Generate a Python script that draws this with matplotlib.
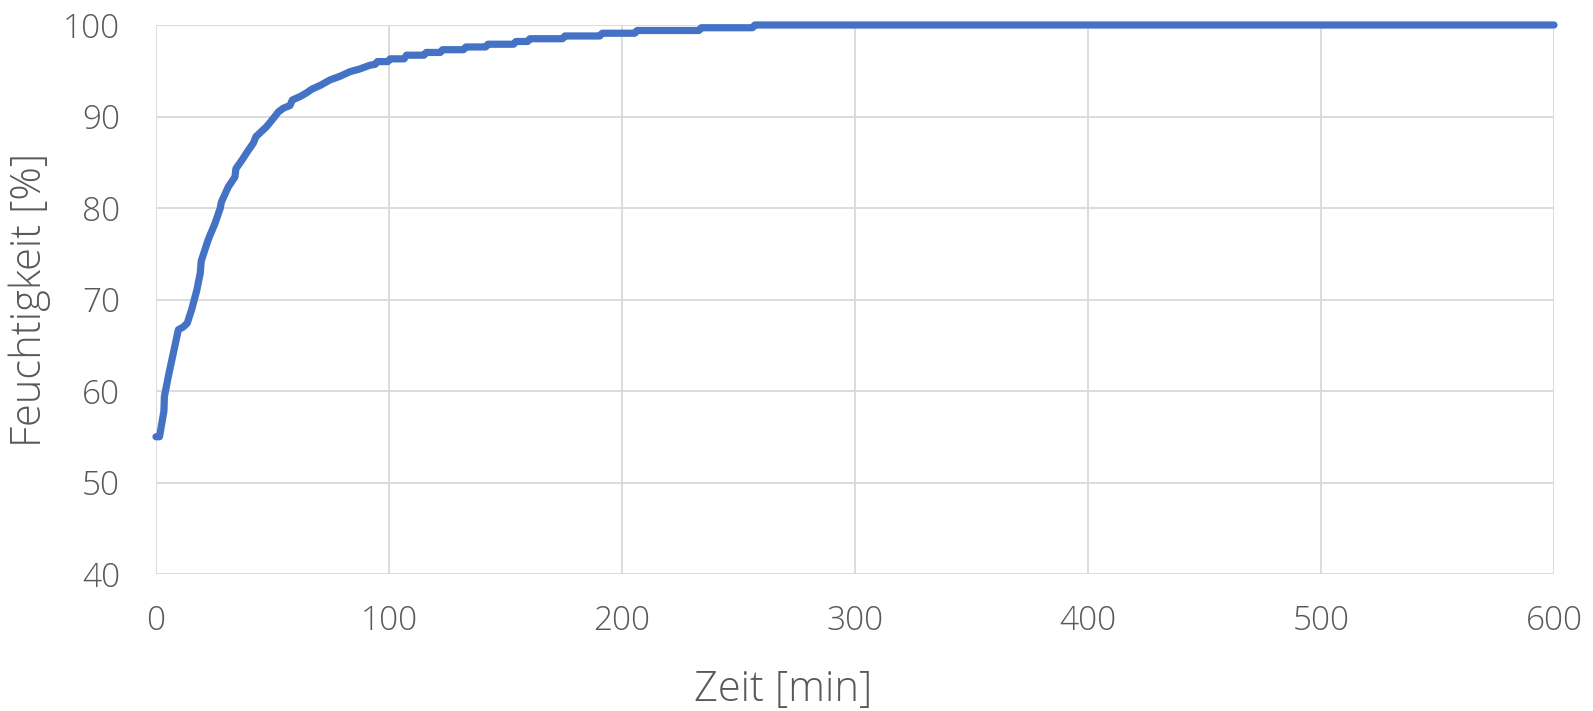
import matplotlib
matplotlib.use("Agg")
import matplotlib.pyplot as plt

# Drying curve: moisture content over time (breakpoints of the measured series)
zeit_min = [
    0, 1.5, 3.4, 3.6, 5.3, 7.4, 9.6, 11.7, 13.4, 15.3, 17.5, 19.0, 19.4,
    22.5, 25.3, 27.6, 28.0, 31.0, 33.9, 34.3, 36.8, 39.6, 41.8, 42.9, 47.5,
    51.0, 52.5, 54.6, 57.5, 58.5, 62.0, 64.7, 67.0, 70.5, 74.7, 79.0, 83.3,
    87.5, 91.8, 94.0, 95.0,
    99.5, 100.5, 106.5, 107.5, 115.0, 116.0, 122.0, 123.0, 132.0, 133.0,
    141.5, 142.5, 153.5, 154.5, 159.5, 160.5, 174.5, 175.5, 190.5, 191.5,
    205.5, 206.5, 233.0, 234.0, 256.0, 257.0, 600.0,
]
feuchtigkeit = [
    55.0, 55.0, 57.8, 59.4, 61.6, 64.1, 66.7, 67.0, 67.4, 68.9, 71.0, 72.9, 74.2,
    76.6, 78.3, 80.0, 80.6, 82.3, 83.4, 84.3, 85.2, 86.3, 87.1, 87.8, 88.9,
    90.0, 90.5, 90.9, 91.2, 91.8, 92.2, 92.6, 93.0, 93.4, 94.0, 94.4, 94.9,
    95.2, 95.6, 95.7, 96.0,
    96.0, 96.3, 96.3, 96.7, 96.7, 97.0, 97.0, 97.3, 97.3, 97.6,
    97.6, 97.9, 97.9, 98.2, 98.2, 98.5, 98.5, 98.8, 98.8, 99.1,
    99.1, 99.4, 99.4, 99.7, 99.7, 100.0, 100.0,
]

x_ticks = [0, 100, 200, 300, 400, 500, 600]
y_ticks = [40, 50, 60, 70, 80, 90, 100]

text_color = "#595959"
grid_color = "#D9D9D9"
line_color = "#4472C4"

plt.rcParams["font.family"] = ["Open Sans", "DejaVu Sans"]
plt.rcParams["font.weight"] = "light"

fig = plt.figure(figsize=(15.93, 7.11), dpi=100)
ax = fig.add_axes([156 / 1593, 137 / 711, (1554 - 156) / 1593, (574 - 25) / 711])

ax.plot(zeit_min, feuchtigkeit, color=line_color, linewidth=5.2,
        solid_capstyle="round", solid_joinstyle="round", clip_on=False, zorder=3)

ax.set_xlim(0, 600)
ax.set_ylim(40, 100)
ax.set_xticks(x_ticks)
ax.set_yticks(y_ticks)
ax.grid(True, color=grid_color, linewidth=1.3)
ax.set_axisbelow(True)
for s in ax.spines.values():
    s.set_visible(False)
ax.tick_params(axis="both", length=0, labelsize=24, colors=text_color)
ax.tick_params(axis="x", pad=22)
ax.tick_params(axis="y", pad=26)

fig.text(30 / 1593, 1 - 300 / 711, "Feuchtigkeit [%]", fontsize=30, color=text_color,
         rotation=90, ha="center", va="center")
fig.text(783 / 1593, 1 - 690 / 711, "Zeit [min]", fontsize=30, color=text_color,
         ha="center", va="center")

fig.savefig("out.png", dpi=100, facecolor="white")
